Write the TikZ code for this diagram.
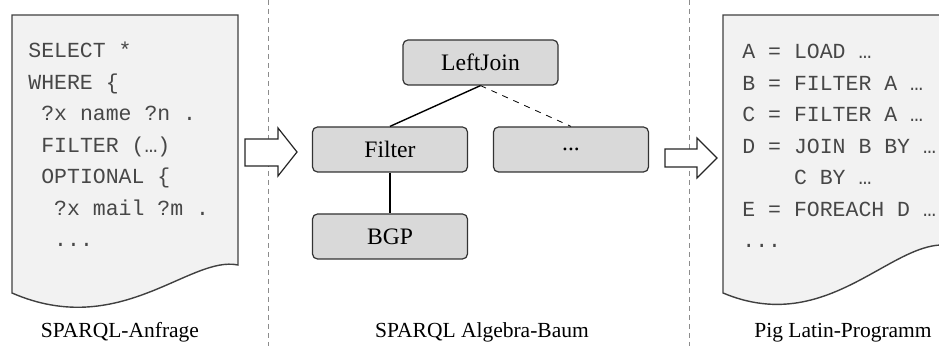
\documentclass[tikz,border=0pt]{standalone}
\usepackage{fontspec}
\setmainfont{Liberation Serif}
\setmonofont{Liberation Mono}
\definecolor{docgray}{HTML}{F2F2F2}
\definecolor{boxgray}{HTML}{D9D9D9}
\definecolor{sepgray}{HTML}{8C8C8C}
\newcommand{\ind}{\hphantom{x}}
\tikzset{
opbox/.style={draw=black!80, fill=boxgray, rounded corners=2.5pt, minimum width=77.5pt, minimum height=22.5pt, line width=0.6pt, font=\fontsize{11.8}{14}\selectfont},
docpage/.style={draw=black!75, fill=docgray, line width=0.7pt},
codetext/.style={inner sep=0pt, anchor=base west, text=black!72, font=\fontsize{10.75}{15.75}\selectfont\ttfamily},
caption/.style={inner sep=0pt, anchor=base, font=\fontsize{10.75}{13}\selectfont},
sepline/.style={draw=sepgray, dash pattern=on 2.5pt off 2pt, line width=0.4pt},
blockarrow/.style={draw=black!85, fill=white, line width=0.6pt}
}

\begin{document}
\begin{tikzpicture}[x=0.5pt, y=-0.5pt]
\useasboundingbox (0,0) rectangle (939,346);
\draw[sepline] (268,0) -- (268,346);
\draw[sepline] (689,0) -- (689,346);

\draw[docpage] (12,15) -- (238,15) -- (238,265) .. controls (190,255) and (120,340) .. (12,293) -- cycle;
\begin{scope}
\clip (0,0) rectangle (939,346);
\draw[docpage] (723,15) -- (960,15) -- (960,248) .. controls (900,225) and (835,340) .. (723,293) -- cycle;
\end{scope}

\node[codetext] (sparql) at (28,58) {\begin{tabular}[t]{@{}l@{}}
SELECT *\\
WHERE \{\\
\ind ?x name ?n .\\
\ind FILTER (…)\\
\ind OPTIONAL \{\\
\ind\ind ?x mail ?m .\\
\ind\ind ...
\end{tabular}};

\node[codetext] (pig) at (742,59) {\begin{tabular}[t]{@{}l@{}}
A = LOAD …\\
B = FILTER A …\\
C = FILTER A …\\
D = JOIN B BY …\\
\ind\ind\ind\ind C BY …\\
E = FOREACH D …\\
...
\end{tabular}};

\draw[blockarrow] (245,139) -- (278,139) -- (278,128) -- (297,152) -- (278,176) -- (278,166) -- (245,166) -- cycle;
\draw[blockarrow] (665,149) -- (697,149) -- (697,138) -- (717,158) -- (697,178) -- (697,167) -- (665,167) -- cycle;

\node[opbox] (leftjoin) at (480.5,62.5) {LeftJoin} [level distance=43.5pt, sibling distance=90.5pt, parent anchor=south, child anchor=north, edge from parent/.style={draw, line width=0.7pt}]
child{node[opbox] (filter) {Filter}
child{node[opbox] (bgp) {BGP}}
}
child{node[opbox] (more) {...} edge from parent[dashed, line width=0.4pt]};

\node[caption] (lblsparql) at (120,338) {SPARQL-Anfrage};
\node[caption] (lblalgebra) at (482,338) {SPARQL Algebra-Baum};
\node[caption] (lblpig) at (843,338) {Pig Latin-Programm};
\end{tikzpicture}
\end{document}
